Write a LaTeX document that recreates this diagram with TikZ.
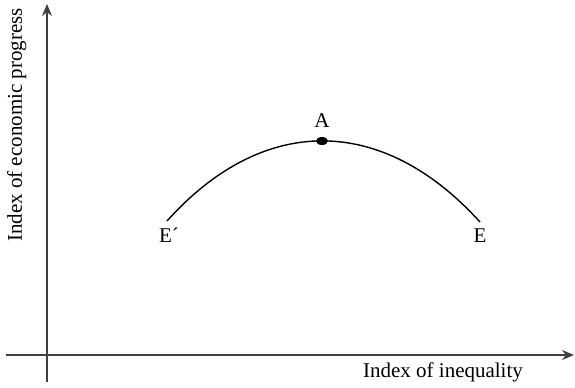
\documentclass[tikz,border=0pt]{standalone}
\usepackage{fontspec}
\setmainfont{Liberation Serif}
\usetikzlibrary{arrows.meta,positioning,shapes.geometric}
\definecolor{AxisGray}{RGB}{64, 64, 64}
\tikzset{
  axis/.style={line width=1pt, draw=AxisGray, -{Stealth[length=6pt, width=5pt]}},
  arcline/.style={line width=0.7pt, black},
  peakdot/.style={ellipse, fill=black, minimum width=6pt, minimum height=4pt, inner sep=0pt},
  lbl/.style={font=\fontsize{10.5}{12}\selectfont, inner sep=0pt}
}

\begin{document}
\begin{tikzpicture}[x=0.5pt, y=-0.5pt]
    \useasboundingbox (0,0) rectangle (575,387);

    % Axes
    \coordinate (xstart) at (6,355);
    \coordinate (xend) at (574,355);
    \coordinate (ystart) at (47,382);
    \coordinate (yend) at (47,4);
    \draw[axis] (xstart) -- (xend);
    \draw[axis] (ystart) -- (yend);

    \node[lbl, anchor=base] (xlabel) at (443,377) {Index of inequality};
    \node[lbl, anchor=base, rotate=90] (ylabel) at (22,125) {Index of economic progress};

    % Curve
    \coordinate (Eprime) at (167,221);
    \coordinate (E) at (480,222);
    \draw[arcline] (Eprime) .. controls (263,114) and (382,114) .. (E);
    \node[peakdot] (A) at (322,141) {};

    \node[lbl, above=4.5pt of A] (Alabel) {A};
    \node[lbl, anchor=base] (Eplabel) at (169,242) {E´};
    \node[lbl, anchor=base] (Elabel) at (480,242) {E};
\end{tikzpicture}
\end{document}
